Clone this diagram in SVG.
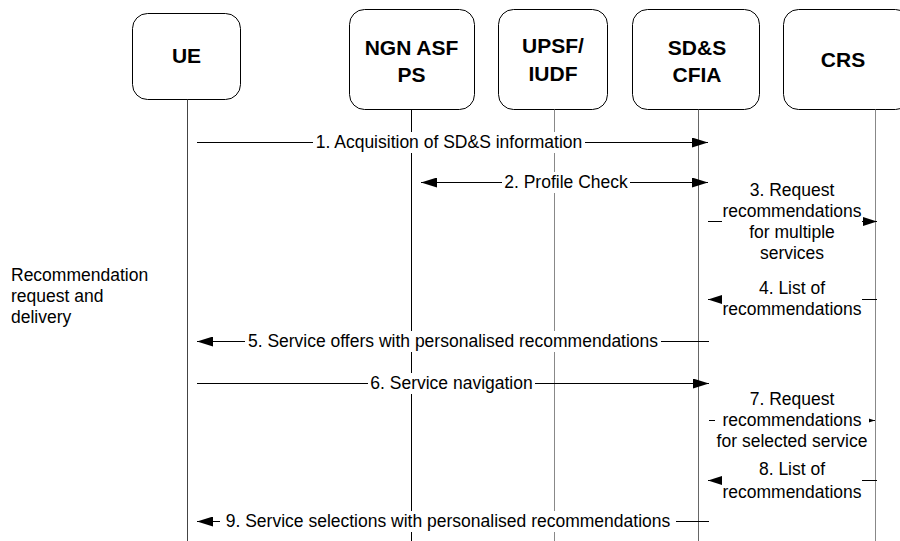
<svg xmlns="http://www.w3.org/2000/svg" width="900" height="541" viewBox="0 0 900 541">
<defs>
<style>
.box{fill:#fff;stroke:#000;stroke-width:1}
.nl{font-family:"Liberation Sans",Arial,sans-serif;font-size:21px;font-weight:bold;fill:#000;text-anchor:middle}
.life{stroke-width:1;fill:none}
.msg{stroke:#000;stroke-width:1;fill:none}
.big{marker-end:url(#ah)}
.sm{marker-end:url(#ahs)}
.lb{fill:#fff;stroke:none}
.t{font-family:"Liberation Sans",Arial,sans-serif;font-size:17.5px;fill:#000;text-anchor:middle}
.tl{font-family:"Liberation Sans",Arial,sans-serif;font-size:17.5px;fill:#000}
</style>
<marker id="ah" viewBox="0 0 16 10" refX="16" refY="5" markerWidth="16" markerHeight="10" markerUnits="userSpaceOnUse" orient="auto-start-reverse"><path d="M0,0 L16,5 L0,10 z" fill="#000"/></marker>
<marker id="ahs" viewBox="0 0 14 9" refX="14" refY="4.5" markerWidth="14" markerHeight="9" markerUnits="userSpaceOnUse" orient="auto-start-reverse"><path d="M0,0 L14,4.5 L0,9 z" fill="#000"/></marker>
</defs>
<rect width="900" height="541" fill="#fff"/>

<g id="ue">
<rect class="box" x="132.5" y="13.5" width="108" height="86" rx="15"/>
<text class="nl" x="186.5" y="63">UE</text>
<line class="life" stroke="#444" x1="187.5" y1="99.5" x2="187.5" y2="541"/>
</g>
<g id="ngn-asf-ps">
<rect class="box" x="349.5" y="9.5" width="125" height="100" rx="15"/>
<text class="nl" x="411.5" y="55">NGN ASF</text>
<text class="nl" x="411.5" y="82">PS</text>
<line class="life" stroke="#000" x1="411.5" y1="109.5" x2="411.5" y2="541"/>
</g>
<g id="upsf-iudf">
<rect class="box" x="498.5" y="9.5" width="109" height="100" rx="15"/>
<text class="nl" x="553" y="53">UPSF/</text>
<text class="nl" x="553" y="81">IUDF</text>
<line class="life" stroke="#888" x1="554.5" y1="109.5" x2="554.5" y2="541"/>
</g>
<g id="sds-cfia">
<rect class="box" x="632.5" y="9.5" width="127" height="100" rx="15"/>
<text class="nl" x="697" y="55">SD&amp;S</text>
<text class="nl" x="697" y="82">CFIA</text>
<line class="life" stroke="#666" x1="698.5" y1="109.5" x2="698.5" y2="541"/>
</g>
<g id="crs">
<rect class="box" x="783.5" y="9.5" width="127" height="100" rx="15"/>
<text class="nl" x="843" y="67">CRS</text>
<line class="life" stroke="#888" x1="875.5" y1="109.5" x2="875.5" y2="541"/>
</g>

<g id="connectors">
<line class="msg big" x1="197" y1="142.5" x2="708" y2="142.5"/>
<line class="msg big" style="marker-start:url(#ah)" x1="421" y1="182.5" x2="708" y2="182.5"/>
<line class="msg sm" x1="708" y1="221.5" x2="877" y2="221.5"/>
<line class="msg sm" x1="877" y1="299.5" x2="708" y2="299.5"/>
<line class="msg big" x1="709" y1="341.5" x2="197" y2="341.5"/>
<line class="msg big" x1="197" y1="383.5" x2="709" y2="383.5"/>
<line class="msg sm" x1="709" y1="420.5" x2="875" y2="420.5"/>
<line class="msg sm" x1="877" y1="480.5" x2="708" y2="480.5"/>
<line class="msg big" x1="709" y1="521.5" x2="197" y2="521.5"/>
</g>

<g id="labels">
<rect class="lb" x="313" y="132" width="272" height="21"/>
<text class="t" x="449" y="148">1. Acquisition of SD&amp;S information</text>
<rect class="lb" x="502" y="172" width="128" height="21"/>
<text class="t" x="566" y="188">2. Profile Check</text>
<rect class="lb" x="722" y="180" width="140" height="84"/>
<text class="t" x="792" y="196">3. Request</text>
<text class="t" x="792" y="217">recommendations</text>
<text class="t" x="792" y="238">for multiple</text>
<text class="t" x="792" y="259">services</text>
<rect class="lb" x="722" y="278" width="140" height="42"/>
<text class="t" x="792" y="294">4. List of</text>
<text class="t" x="792" y="315">recommendations</text>
<rect class="lb" x="245" y="331" width="416" height="21"/>
<text class="t" x="453" y="347">5. Service offers with personalised recommendations</text>
<rect class="lb" x="368" y="373" width="167" height="21"/>
<text class="t" x="451.5" y="389">6. Service navigation</text>
<rect class="lb" x="715" y="388" width="154" height="64"/>
<text class="t" x="792" y="405">7. Request</text>
<text class="t" x="792" y="426">recommendations</text>
<text class="t" x="792" y="447">for selected service</text>
<rect class="lb" x="722" y="459" width="140" height="44"/>
<text class="t" x="792" y="475">8. List of</text>
<text class="t" x="792" y="498">recommendations</text>
<rect class="lb" x="220" y="511" width="456" height="21"/>
<text class="t" x="448" y="527">9. Service selections with personalised recommendations</text>
</g>

<g id="phase-label">
<text class="tl" x="11" y="281">Recommendation</text>
<text class="tl" x="11" y="302">request and</text>
<text class="tl" x="11" y="323">delivery</text>
</g>
</svg>
